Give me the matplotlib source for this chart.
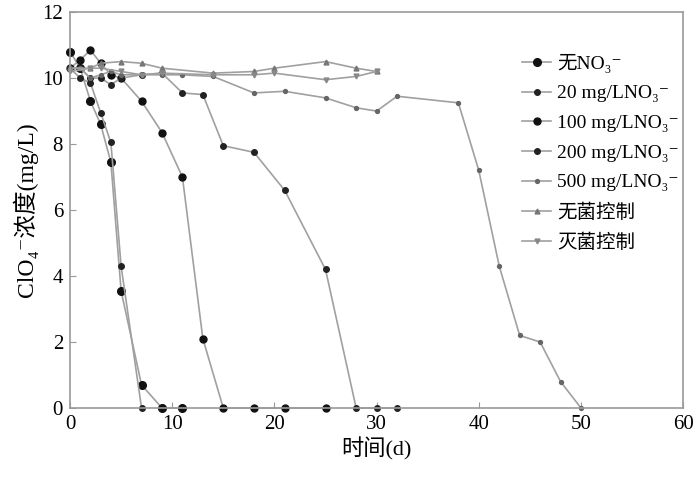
import matplotlib
matplotlib.use("Agg")
import matplotlib.pyplot as plt

plt.rcParams['font.family'] = ['Liberation Serif', 'DejaVu Serif', 'Noto Sans CJK SC']

labels = ["无NO₃⁻", "20 mg/LNO₃⁻", "100 mg/LNO₃⁻", "200 mg/LNO₃⁻",
          "500 mg/LNO₃⁻", "无菌控制", "灭菌控制"]

x_none = [0, 1, 2, 3, 4, 5, 7, 9, 11]
y_none = [10.8, 10.3, 9.3, 8.6, 7.45, 3.55, 0.7, 0, 0]

x_20 = [0, 1, 2, 3, 4, 5, 7]
y_20 = [10.3, 10.0, 9.85, 8.95, 8.05, 4.3, 0]

x_100 = [0, 1, 2, 3, 4, 5, 7, 9, 11, 13, 15, 18, 21, 25]
y_100 = [10.3, 10.55, 10.85, 10.45, 10.1, 10.0, 9.3, 8.35, 7.0, 2.1, 0, 0, 0, 0]

x_200 = [0, 1, 2, 3, 4, 5, 7, 9, 11, 13, 15, 18, 21, 25, 28, 30, 32]
y_200 = [10.3, 10.3, 10.0, 10.0, 9.8, 10.0, 10.1, 10.15, 9.55, 9.5, 7.95, 7.75, 6.6, 4.2, 0, 0, 0]

x_500 = [0, 1, 2, 3, 4, 5, 7, 9, 11, 14, 18, 21, 25, 28, 30, 32, 38, 40, 42, 44, 46, 48, 50]
y_500 = [10.3, 10.3, 10.0, 10.1, 10.2, 10.1, 10.1, 10.1, 10.1, 10.05, 9.55, 9.6, 9.4,
         9.1, 9.0, 9.45, 9.25, 7.2, 4.3, 2.2, 2.0, 0.8, 0]

x_ctrl1 = [0, 2, 3, 5, 7, 9, 14, 18, 20, 25, 28, 30]
y_ctrl1 = [10.3, 10.3, 10.45, 10.5, 10.45, 10.3, 10.15, 10.2, 10.3, 10.5, 10.3, 10.2]

x_ctrl2 = [0, 2, 3, 5, 7, 9, 14, 18, 20, 25, 28, 30]
y_ctrl2 = [10.2, 10.3, 10.3, 10.2, 10.1, 10.15, 10.1, 10.1, 10.15, 9.95, 10.05, 10.2]

x_ticks = [0, 10, 20, 30, 40, 50, 60]
y_ticks = [0, 2, 4, 6, 8, 10, 12]

fig = plt.figure(figsize=(7, 4.84), dpi=100)
ax = fig.add_axes([0.1, 0.157, 0.876, 0.818])

line_c = '#a0a0a0'
series = [
    (x_none, y_none, 'o', 5.5, '#111111'),
    (x_20, y_20, 'o', 4.0, '#222222'),
    (x_100, y_100, 'o', 5.0, '#111111'),
    (x_200, y_200, 'o', 4.0, '#222222'),
    (x_500, y_500, 'o', 2.8, '#666666'),
    (x_ctrl1, y_ctrl1, '^', 3.5, '#777777'),
    (x_ctrl2, y_ctrl2, 'v', 3.5, '#888888'),
]
for (xs, ys, m, ms, mc), lab in zip(series, labels):
    ax.plot(xs, ys, color=line_c, lw=1.2, marker=m, ms=ms,
            markerfacecolor=mc, markeredgecolor=mc, label=lab, clip_on=False)

ax.set_xlim(0, 60)
ax.set_ylim(0, 12)
ax.set_xticks(x_ticks)
ax.set_yticks(y_ticks)
ax.tick_params(direction='in', length=4, color='#999999', labelsize=15, pad=5)
for s in ax.spines.values():
    s.set_color('#999999')
    s.set_linewidth(1.2)

ax.set_xlabel("时间(d)", fontsize=16, labelpad=2)
ax.set_ylabel("ClO₄⁻浓度(mg/L)", fontsize=17, labelpad=3)

leg = ax.legend(loc='upper left', bbox_to_anchor=(0.737, 0.895), frameon=False,
                fontsize=14, handlelength=1.5, labelspacing=0.62, handletextpad=0.3,
                borderpad=0, borderaxespad=0)

fig.savefig("out.png", dpi=100)
